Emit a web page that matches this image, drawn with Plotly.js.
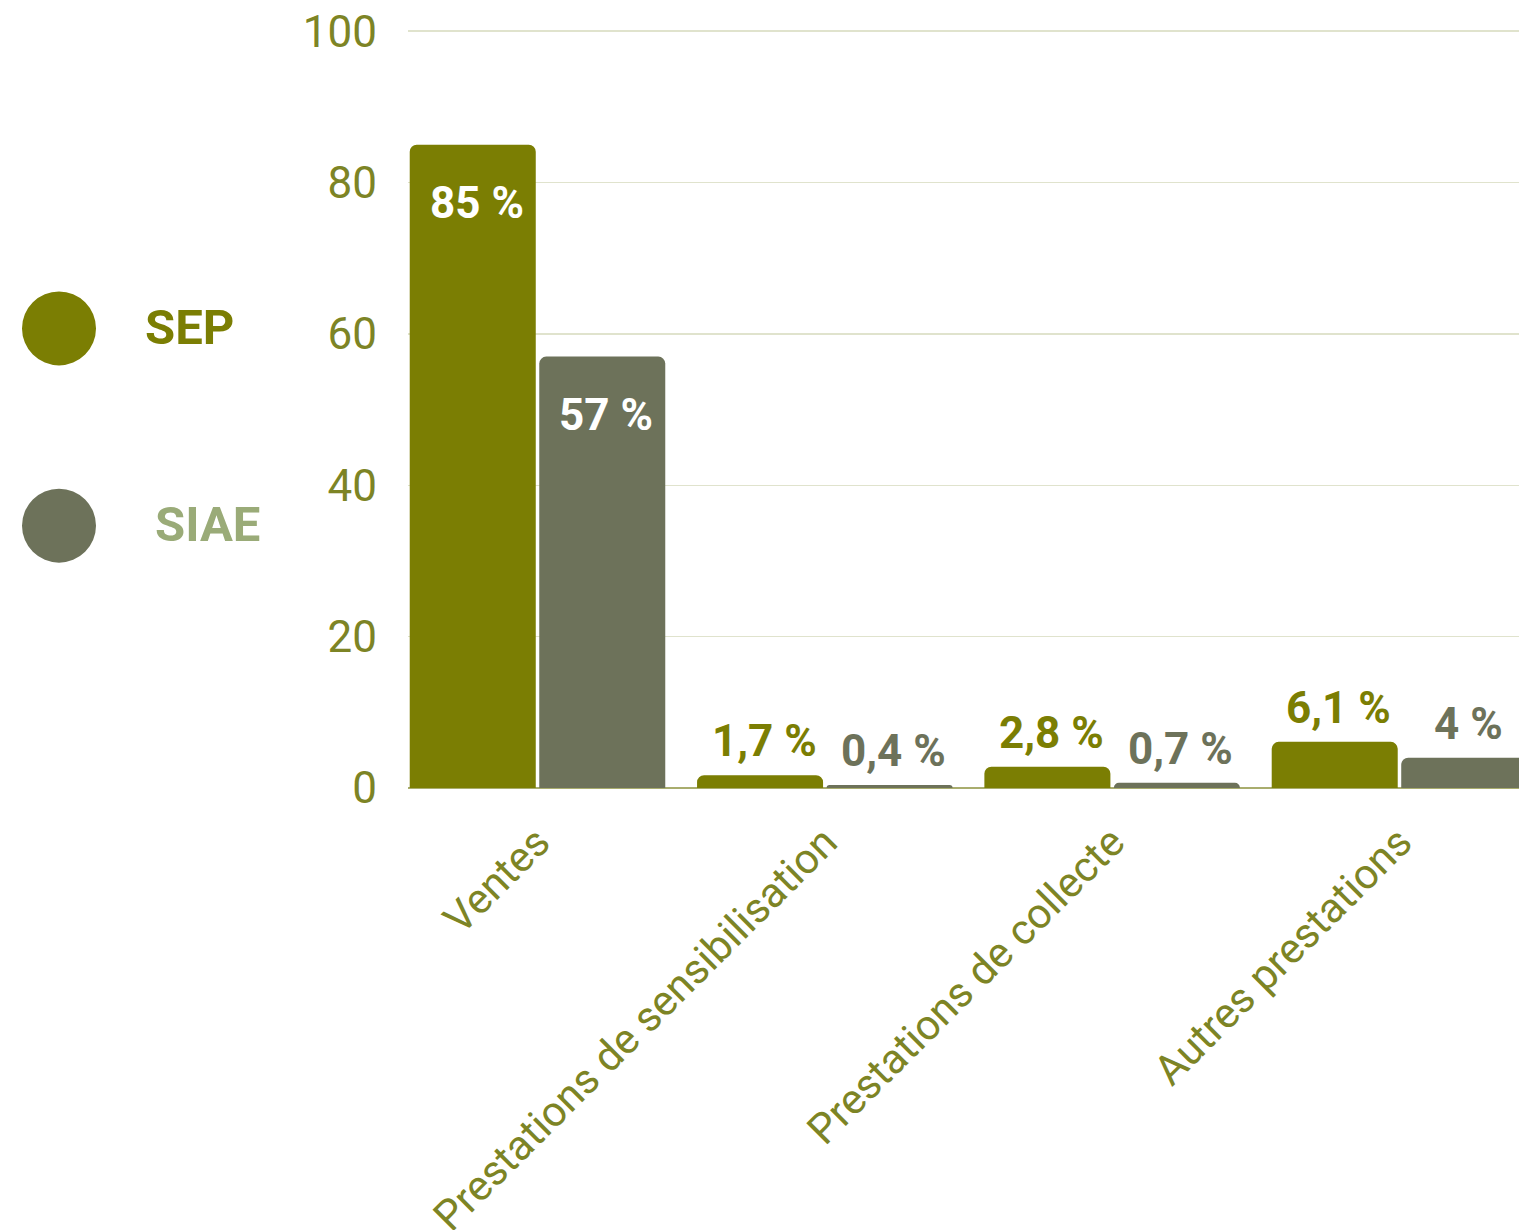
<!DOCTYPE html>
<html>
<head>
<meta charset="utf-8">
<script src="https://cdn.plot.ly/plotly-3.0.1.min.js"></script>
<style>html,body{margin:0;padding:0;background:#fff;}#chart{width:1519px;height:1230px;}</style>
</head>
<body>
<div id="chart"></div>
<script>
const categories = ["Ventes", "Prestations de sensibilisation", "Prestations de collecte", "Autres prestations"];
const seriesNames = ["SEP", "SIAE"];
const sepValues = [85, 1.7, 2.8, 6.1];
const siaeValues = [57, 0.4, 0.7, 4];
const sepLabels = ["85 %", "1,7 %", "2,8 %", "6,1 %"];
const siaeLabels = ["57 %", "0,4 %", "0,7 %", "4 %"];
const yTicks = [0, 20, 40, 60, 80, 100];

(function () {
const colors = ["#7b7e03", "#6d725a"];
const legendTextColors = ["#7b7e03", "#9aab78"];
const tickColor = "#7d8425";
const font = "Roboto, 'Open Sans', sans-serif";

const traces = [
  {type: "bar", name: seriesNames[0], x: categories, y: sepValues, marker: {color: colors[0]}, hoverinfo: "x+y"},
  {type: "bar", name: seriesNames[1], x: categories, y: siaeValues, marker: {color: colors[1]}, hoverinfo: "x+y"}
];

const slotPx = 64.75;
const annotations = [];
[[sepValues, sepLabels, -slotPx, colors[0]], [siaeValues, siaeLabels, slotPx, colors[1]]].forEach(([vals, labs, shift, col]) => {
  vals.forEach((v, j) => {
    const inside = v > 20;
    annotations.push({
      x: categories[j], y: v, xref: "x", yref: "y",
      text: "<b>" + labs[j] + "</b>", showarrow: false,
      xshift: shift + 4, yshift: inside ? -30 : 6,
      yanchor: inside ? "top" : "bottom", xanchor: "center",
      font: {family: font, size: 44, color: inside ? "#ffffff" : col}
    });
  });
});

// custom legend
const pw = 1111, ph = 757, plotLeft = 408, plotTop = 31;
const legendItems = [{cy: 329, tx: 143, ty: 328}, {cy: 526, tx: 153, ty: 525}];
const shapes = [];
legendItems.forEach((it, i) => {
  shapes.push({
    type: "circle", xref: "paper", yref: "paper",
    xsizemode: "pixel", ysizemode: "pixel",
    xanchor: (59 - plotLeft) / pw, yanchor: (plotTop + ph - it.cy) / ph,
    x0: -37, x1: 37, y0: -37, y1: 37,
    fillcolor: colors[i], line: {width: 0}
  });
  annotations.push({
    xref: "paper", yref: "paper", x: (it.tx - plotLeft) / pw, y: (plotTop + ph - it.ty) / ph,
    xanchor: "left", yanchor: "middle", showarrow: false,
    text: "<b>" + seriesNames[i] + "</b>",
    font: {family: font, size: 49, color: legendTextColors[i]}
  });
});

const layout = {
  width: 1519, height: 1230,
  margin: {l: 408, r: 0, t: 30, b: 442},
  paper_bgcolor: "#ffffff", plot_bgcolor: "#ffffff",
  showlegend: false,
  barmode: "group", bargap: 0.0985, bargroupgap: 0.027, barcornerradius: 7,
  font: {family: font, color: tickColor},
  xaxis: {
    type: "category", range: [-0.4507, 3.416],
    tickangle: -45, tickfont: {family: font, size: 42, color: tickColor},
    showgrid: false, showline: false, ticks: "", zeroline: false,
    ticklabelstandoff: 20
  },
  yaxis: {
    range: [0, 100.15], tickvals: yTicks, ticktext: yTicks.map(String),
    tickfont: {family: font, size: 44, color: tickColor},
    showgrid: true, gridcolor: "#e0e3cd", gridwidth: 1.5,
    zeroline: true, zerolinecolor: "#a9ad6e", zerolinewidth: 2,
    showline: false, ticks: "", ticklabelstandoff: 30
  },
  annotations: annotations,
  shapes: shapes
};

Plotly.newPlot("chart", traces, layout, {displayModeBar: false, staticPlot: true});
})();
</script>
</body>
</html>
